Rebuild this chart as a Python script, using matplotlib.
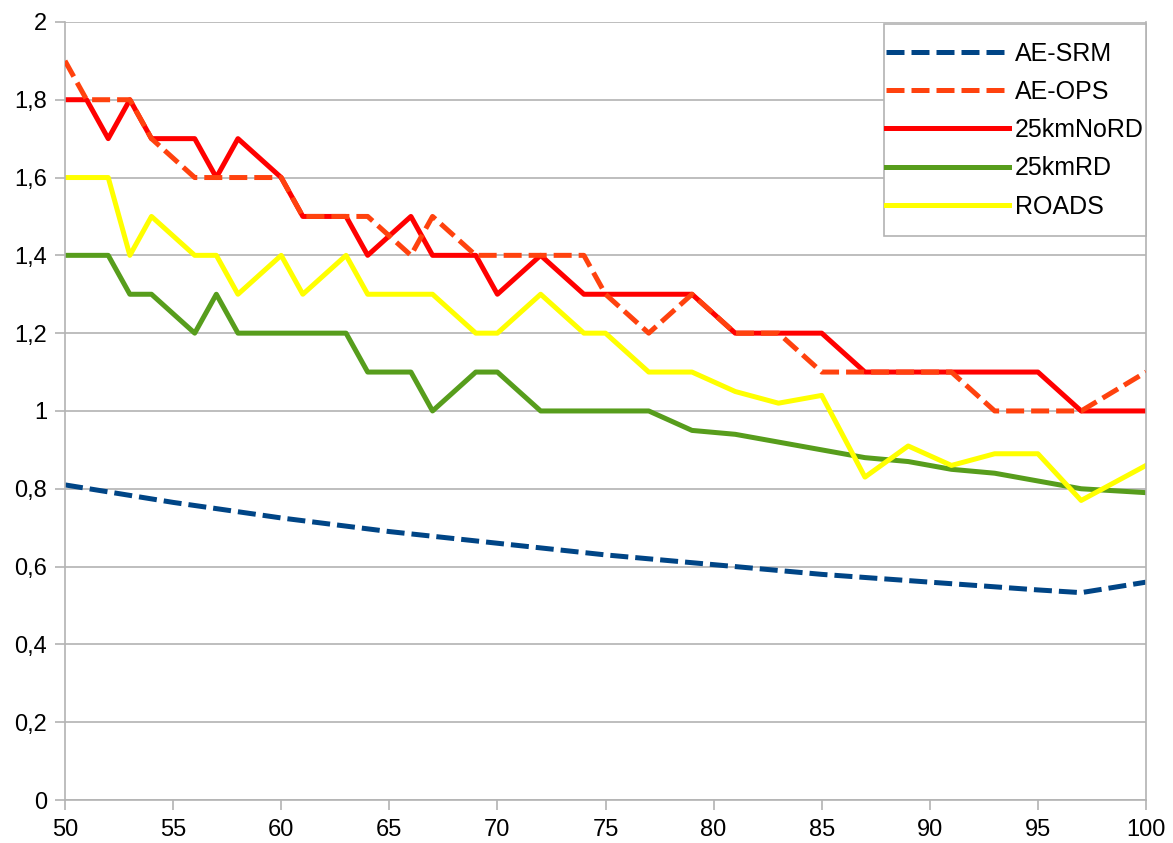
import matplotlib
matplotlib.use('Agg')
import matplotlib.pyplot as plt
from matplotlib.path import Path
from matplotlib.ticker import FuncFormatter

plt.rcParams['font.family'] = ['Liberation Sans', 'DejaVu Sans']

# ---- data ----
x_vals = [50, 51, 52, 53, 54, 56, 57, 58, 60, 61, 63, 64, 66, 67, 69, 70,
          72, 74, 75, 77, 79, 81, 83, 85, 87, 89, 91, 93, 95, 97, 100]

ae_ops = [1.9, 1.8, 1.8, 1.8, 1.7, 1.6, 1.6, 1.6, 1.6, 1.5, 1.5, 1.5, 1.4, 1.5, 1.4, 1.4,
          1.4, 1.4, 1.3, 1.2, 1.3, 1.2, 1.2, 1.1, 1.1, 1.1, 1.1, 1.0, 1.0, 1.0, 1.1]
no_rd = [1.8, 1.8, 1.7, 1.8, 1.7, 1.7, 1.6, 1.7, 1.6, 1.5, 1.5, 1.4, 1.5, 1.4, 1.4, 1.3,
         1.4, 1.3, 1.3, 1.3, 1.3, 1.2, 1.2, 1.2, 1.1, 1.1, 1.1, 1.1, 1.1, 1.0, 1.0]
rd = [1.4, 1.4, 1.4, 1.3, 1.3, 1.2, 1.3, 1.2, 1.2, 1.2, 1.2, 1.1, 1.1, 1.0, 1.1, 1.1,
      1.0, 1.0, 1.0, 1.0, 0.95, 0.94, 0.92, 0.90, 0.88, 0.87, 0.85, 0.84, 0.82, 0.80, 0.79]
roads = [1.6, 1.6, 1.6, 1.4, 1.5, 1.4, 1.4, 1.3, 1.4, 1.3, 1.4, 1.3, 1.3, 1.3, 1.2, 1.2,
         1.3, 1.2, 1.2, 1.1, 1.1, 1.05, 1.02, 1.04, 0.83, 0.91, 0.86, 0.89, 0.89, 0.77, 0.86]

srm_x = [50, 55, 60, 65, 70, 75, 80, 85, 90, 95, 97, 100]
ae_srm = [0.81, 0.765, 0.725, 0.69, 0.66, 0.63, 0.605, 0.58, 0.56, 0.54, 0.533, 0.56]

LW = 3.6
DASH = (0, (3.6, 1.4))
GREY = '#b3b3b3'


def tall_box(x0, y0, width, height, mutation_size):
    # legend frame: tight at the sides, extra room top and bottom
    pady = 0.6 * mutation_size
    return Path([(x0, y0 - pady), (x0 + width, y0 - pady),
                 (x0 + width, y0 + height + pady), (x0, y0 + height + pady),
                 (x0, y0 - pady)], closed=True)


fig = plt.figure(figsize=(11.73, 8.43), dpi=100)
ax = fig.add_axes([0.0554, 0.051, 0.9216, 0.923])

ax.plot(srm_x, ae_srm, color='#004586', lw=LW, ls=DASH, label='AE-SRM')
ax.plot(x_vals, ae_ops, color='#ff420e', lw=LW, ls=DASH, label='AE-OPS', zorder=3)
ax.plot(x_vals, no_rd, color='#ff0000', lw=LW, label='25kmNoRD', zorder=2)
ax.plot(x_vals, rd, color='#579d1c', lw=LW, label='25kmRD')
ax.plot(x_vals, roads, color='#ffff00', lw=LW, label='ROADS')

ax.set_xlim(50, 100)
ax.set_ylim(0, 2)
ax.set_xticks(range(50, 101, 5))
ax.set_yticks([i * 0.2 for i in range(11)])
ax.yaxis.set_major_formatter(FuncFormatter(
    lambda v, p: ('%g' % round(v, 1)).replace('.', ',')))

ax.grid(axis='y', color=GREY, lw=1.2)
ax.set_axisbelow(True)
for side in ['left', 'bottom', 'right']:
    ax.spines[side].set_color(GREY)
    ax.spines[side].set_linewidth(1.2)
ax.spines['top'].set_visible(False)
ax.tick_params(axis='both', colors=GREY, labelcolor='black',
               labelsize=17, length=7, width=1.2, direction='out')
ax.tick_params(axis='y', pad=6)
ax.tick_params(axis='x', pad=7)

leg = ax.legend(loc='upper right', bbox_to_anchor=(1.0, 0.978), borderaxespad=0.0,
                fontsize=18, handlelength=4.9, handletextpad=0.24,
                labelspacing=0.57, fancybox=False, framealpha=1.0,
                edgecolor=GREY, borderpad=0.1)
leg.get_frame().set_linewidth(1.2)
leg.get_frame().set_boxstyle(tall_box)

fig.savefig('out.png', dpi=100)
